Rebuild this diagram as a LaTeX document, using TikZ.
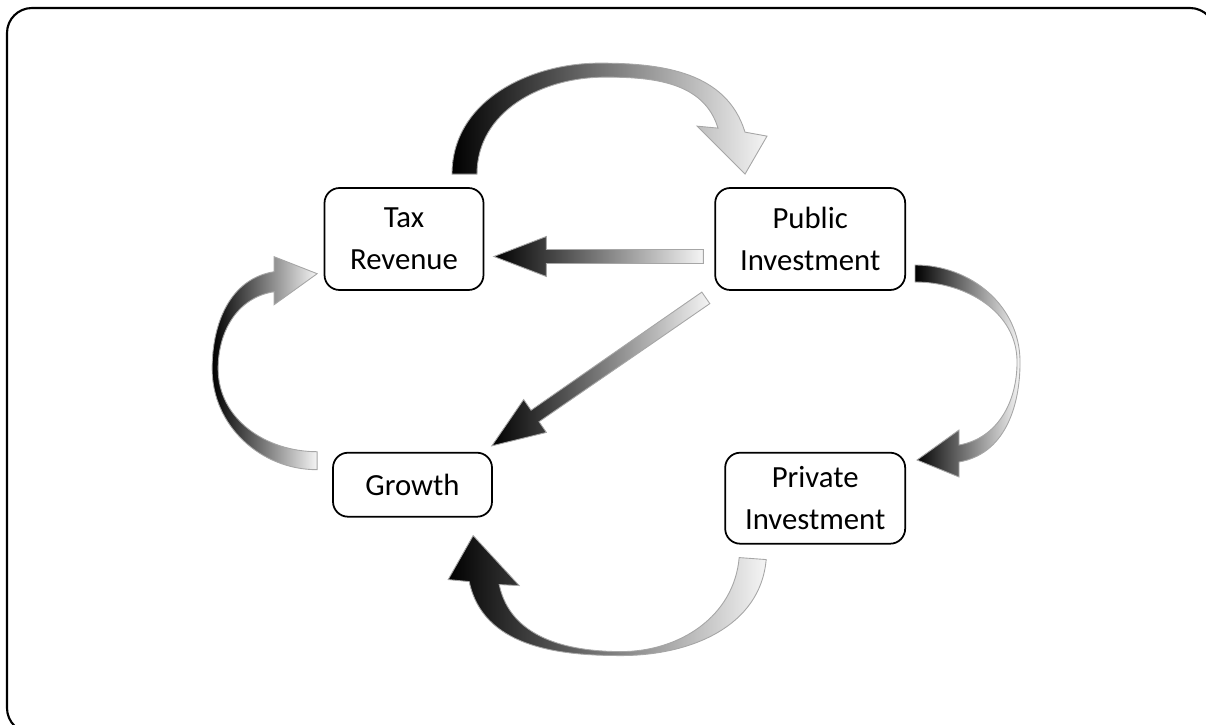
\documentclass[tikz,border=0pt]{standalone}
\usepackage{fontspec}
\setmainfont{Carlito}
\usetikzlibrary{positioning,calc}

% straight block arrow from #1 (tail) to #2 (tip)
\newcommand{\blockarrow}[2]{%
  \coordinate (head) at ($(#2)!1.05cm!(#1)$);
  \path[flow] ($(#1)!0.14cm!90:(#2)$) -- ($(head)!0.14cm!90:(#2)$) -- ($(head)!0.4cm!90:(#2)$)
    -- (#2) -- ($(head)!0.4cm!-90:(#2)$) -- ($(head)!0.14cm!-90:(#2)$) -- ($(#1)!0.14cm!-90:(#2)$) -- cycle;
}

\begin{document}
\begin{tikzpicture}[
    x=0.02cm, y=0.02cm,
    sector/.style={draw, line width=1pt, rounded corners=0.3cm, align=center, inner sep=0pt, font=\fontsize{17.5}{24}\selectfont},
    flow/.style={draw=gray!70, line width=0.5pt, left color=black, right color=gray!8},
    frame/.style={line width=1.2pt, rounded corners=0.5cm}
]
\useasboundingbox (0,0) rectangle (1206,724);

\begin{scope}
\clip (0,0) rectangle (1206,724);
\draw[frame] (7,716) rectangle (1215,-9);
\end{scope}

\node[sector, minimum width=3.18cm, minimum height=2.04cm] (tax) at (404,485) {Tax\\Revenue};
\node[sector, minimum width=3.8cm, minimum height=2.04cm, right=4.6cm of tax] (pub) {Public\\Investment};
\node[sector, minimum width=3.6cm, minimum height=1.82cm, below=3.22cm of pub, xshift=0.1cm] (priv) {Private\\Investment};
\node[sector, minimum width=3.18cm, minimum height=1.28cm, below=3.22cm of tax, xshift=0.17cm] (growth) {Growth};

% Straight arrows
\coordinate (pub_out) at ([shift={(-0.22cm,-0.35cm)}]pub.west);
\coordinate (tax_in) at ([shift={(0.19cm,-0.35cm)}]tax.east);
\blockarrow{pub_out}{tax_in}

\coordinate (pub_diag) at ([shift={(-0.17cm,-0.14cm)}]pub.south west);
\coordinate (growth_in) at ([shift={(-0.02cm,0.12cm)}]growth.north east);
\blockarrow{pub_diag}{growth_in}

% Curved arrows
\begin{scope}[shift={(tax.north)}]
\path[flow] (48,13) to[out=90,in=180] (196,124) to[out=0,in=107] (341,55)
  -- (363,51) -- (341,13) -- (293,61) -- (314,59)
  to[out=107,in=0] (201,110) to[out=180,in=90] (73,13) -- cycle;
\end{scope}

\begin{scope}[shift={(pub.east)}]
\path[flow] (9,-26) to[out=0,in=90] (114,-123) to[out=-90,in=10] (53,-223)
  -- (53,-238) -- (11,-221) -- (53,-191) -- (53,-206)
  to[out=10,in=-90] (111,-123) to[out=90,in=0] (9,-43) -- cycle;
\end{scope}

\begin{scope}[shift={(priv.south)}]
\path[flow] (-49,-15) to[out=-95,in=0] (-194,-111) to[out=180,in=-78] (-346,-37)
  -- (-367,-35) -- (-342,9) -- (-296,-41) -- (-316,-40)
  to[out=-78,in=180] (-194,-107) to[out=0,in=-95] (-76,-13) -- cycle;
\end{scope}

\begin{scope}[shift={(growth.west)}]
\path[flow] (-15,15) to[out=180,in=-90] (-120,116) to[out=90,in=189] (-58,213)
  -- (-58,228) -- (-15,211) -- (-58,180) -- (-58,193)
  to[out=189,in=90] (-114,116) to[out=-90,in=180] (-15,33) -- cycle;
\end{scope}

\end{tikzpicture}
\end{document}
